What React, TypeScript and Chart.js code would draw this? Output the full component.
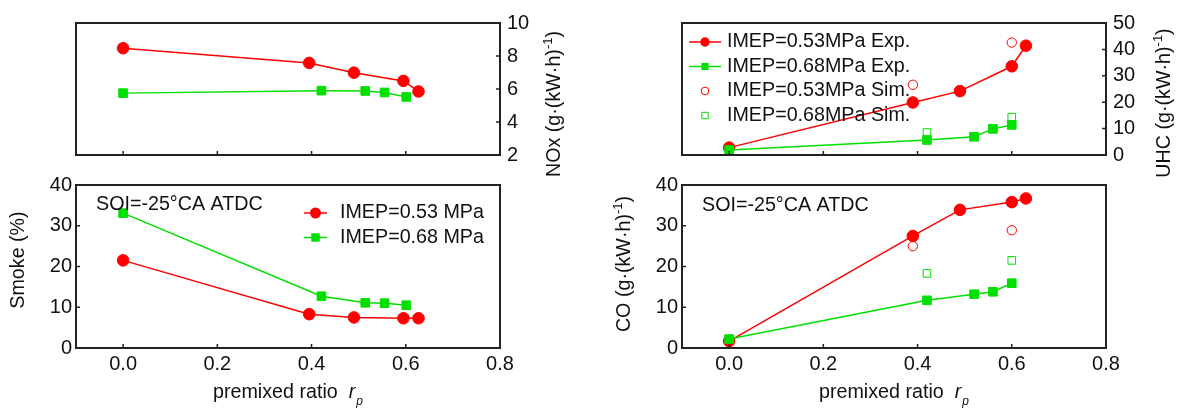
import React, { useEffect, useRef } from 'react';
import { Chart, registerables } from 'chart.js';
Chart.register(...registerables);

const W = 1179;
const H = 408;
const RED = '#ff0000';
const GREEN = '#00e000';
const INK = '#111111';
const FRAME = '#222222';
const FONT = '"Liberation Sans", Arial, Helvetica, sans-serif';
const TXT = 19.7;
const TICK = 20;

// ---- data ----
const xTickValues = [0, 0.2, 0.4, 0.6, 0.8];

// left panel (premixed ratio)
const rpRedL = [0, 0.395, 0.49, 0.595, 0.627];
const rpGreenL = [0, 0.421, 0.514, 0.555, 0.601];
const noxRed = [8.47, 7.58, 6.99, 6.49, 5.85];
const noxGreen = [5.75, 5.9, 5.88, 5.79, 5.52];
const smokeRed = [21.5, 8.3, 7.5, 7.3, 7.3];
const smokeGreen = [33.1, 12.7, 11.1, 11.0, 10.5];

// right panel
const rpRedR = [0, 0.39, 0.49, 0.6, 0.63];
const rpGreenR = [0, 0.42, 0.52, 0.56, 0.6];
const uhcRed = [2.8, 19.9, 24.2, 33.6, 41.4];
const uhcGreen = [1.9, 5.7, 6.9, 9.9, 11.4];
const coRed = [1.7, 27.5, 33.9, 35.8, 36.7];
const coGreen = [2.2, 11.7, 13.2, 13.8, 15.9];
const rpRedSim = [0.39, 0.6];
const rpGreenSim = [0.42, 0.6];
const uhcRedSim = [26.6, 42.6];
const uhcGreenSim = [8.5, 14.3];
const coRedSim = [25.0, 28.9];
const coGreenSim = [18.3, 21.5];

const noxTicks = [2, 4, 6, 8, 10];
const smokeTicks = [0, 10, 20, 30, 40];
const uhcTicks = [0, 10, 20, 30, 40, 50];
const coTicks = [0, 10, 20, 30, 40];

const legendLeft = ['IMEP=0.53 MPa', 'IMEP=0.68 MPa'];
const legendRight = ['IMEP=0.53MPa Exp.', 'IMEP=0.68MPa Exp.', 'IMEP=0.53MPa Sim.', 'IMEP=0.68MPa Sim.'];
const soiText = 'SOI=-25°CA ATDC';

// ---- helpers ----
type Seg = { t: string; size?: number; dy?: number; dx?: number; italic?: boolean };
function fontStr(s: Seg) {
  return `${s.italic ? 'italic ' : ''}${s.size || TXT}px ${FONT}`;
}
function drawRich(ctx: CanvasRenderingContext2D, segs: Seg[], x: number, y: number, center: boolean) {
  const widths = segs.map((s) => {
    ctx.font = fontStr(s);
    return ctx.measureText(s.t).width;
  });
  let total = 0;
  segs.forEach((s, i) => (total += widths[i] + (s.dx || 0)));
  let cx = center ? x - total / 2 : x;
  segs.forEach((s, i) => {
    cx += s.dx || 0;
    ctx.font = fontStr(s);
    ctx.fillText(s.t, cx, y + (s.dy || 0));
    cx += widths[i];
  });
}

type Mark = { style: 'circle' | 'rect'; filled: boolean; color: string; line: boolean };
function drawMarker(ctx: CanvasRenderingContext2D, m: Mark, x: number, y: number, scale: number) {
  ctx.save();
  ctx.beginPath();
  if (m.style === 'circle') {
    ctx.arc(x, y, (m.filled ? 5.5 : 4.5) * scale, 0, Math.PI * 2);
  } else {
    const s = (m.filled ? 8.5 : 7.5) * scale;
    ctx.rect(x - s / 2, y - s / 2, s, s);
  }
  if (m.filled) {
    ctx.fillStyle = m.color;
    ctx.fill();
  } else {
    ctx.strokeStyle = m.color;
    ctx.lineWidth = 1;
    ctx.stroke();
  }
  ctx.restore();
}

type Area = { L: number; T: number; R: number; B: number };
type Spec = {
  id: string;
  area: Area;
  yPos: 'left' | 'right';
  yMin: number;
  yMax: number;
  yTicks: number[];
  showX: boolean;
  datasets: any[];
  yTitle: { segs: Seg[]; x: number; y: number };
  xTitle?: { x: number; y: number };
  soi?: { x: number; y: number };
  legend?: {
    labels: string[];
    marks: Mark[];
    lx0: number;
    lx1: number;
    mx: number;
    tx: number;
    y0: number;
    dy: number;
    scale: number;
  };
};

const redMark: Mark = { style: 'circle', filled: true, color: RED, line: true };
const greenMark: Mark = { style: 'rect', filled: true, color: GREEN, line: true };
const redSimMark: Mark = { style: 'circle', filled: false, color: RED, line: false };
const greenSimMark: Mark = { style: 'rect', filled: false, color: GREEN, line: false };

function pts(xs: number[], ys: number[]) {
  return xs.map((x, i) => ({ x, y: ys[i] }));
}
function expSet(label: string, xs: number[], ys: number[], color: string, style: 'circle' | 'rect', order: number) {
  return {
    label,
    data: pts(xs, ys),
    showLine: true,
    borderColor: color,
    backgroundColor: color,
    borderWidth: 1.5,
    pointStyle: style,
    pointRadius: style === 'circle' ? 5.8 : 6.1,
    pointBorderWidth: 1,
    pointBorderColor: color,
    pointBackgroundColor: color,
    clip: false,
    order,
  };
}
function simSet(label: string, xs: number[], ys: number[], color: string, style: 'circle' | 'rect', order: number) {
  return {
    label,
    data: pts(xs, ys),
    showLine: false,
    borderColor: color,
    backgroundColor: 'rgba(0,0,0,0)',
    pointStyle: style,
    pointRadius: style === 'circle' ? 4.7 : 5.4,
    pointBorderWidth: 1,
    pointBorderColor: color,
    pointBackgroundColor: 'rgba(0,0,0,0)',
    clip: false,
    order,
  };
}

function makeDeco(spec: Spec) {
  return {
    id: 'deco_' + spec.id,
    afterDraw(chart: any) {
      const ctx: CanvasRenderingContext2D = chart.ctx;
      const { left, top, right, bottom } = chart.chartArea;
      const xs = chart.scales.x;
      const ys = chart.scales.y;
      ctx.save();
      // frame
      ctx.strokeStyle = FRAME;
      ctx.lineWidth = 2;
      ctx.strokeRect(left, top, right - left, bottom - top);
      // inward tick marks
      ctx.lineWidth = 1.5;
      ctx.beginPath();
      xTickValues.forEach((v) => {
        const px = xs.getPixelForValue(v);
        if (px > left + 2 && px < right - 2) {
          ctx.moveTo(px, bottom);
          ctx.lineTo(px, bottom - 4);
        }
      });
      spec.yTicks.forEach((v) => {
        const py = ys.getPixelForValue(v);
        if (py > top + 2 && py < bottom - 2) {
          if (spec.yPos === 'left') {
            ctx.moveTo(left, py);
            ctx.lineTo(left + 4, py);
          } else {
            ctx.moveTo(right, py);
            ctx.lineTo(right - 4, py);
          }
        }
      });
      ctx.stroke();

      ctx.fillStyle = INK;
      ctx.textBaseline = 'middle';
      ctx.textAlign = 'left';
      // y title (rotated)
      ctx.save();
      ctx.translate(spec.yTitle.x, spec.yTitle.y);
      ctx.rotate(-Math.PI / 2);
      drawRich(ctx, spec.yTitle.segs, 0, 0, true);
      ctx.restore();
      // x title
      if (spec.xTitle) {
        drawRich(
          ctx,
          [
            { t: 'premixed ratio' },
            { t: 'r', italic: true, dx: 11 },
            { t: 'p', italic: true, size: 12, dy: 9, dx: 1 },
          ],
          spec.xTitle.x,
          spec.xTitle.y,
          false
        );
      }
      // SOI annotation
      if (spec.soi) {
        ctx.font = `${TXT}px ${FONT}`;
        ctx.fillText(soiText, spec.soi.x, spec.soi.y);
      }
      // legend
      if (spec.legend) {
        const lg = spec.legend;
        lg.labels.forEach((lab, i) => {
          const y = lg.y0 + i * lg.dy;
          const m = lg.marks[i];
          if (m.line) {
            ctx.strokeStyle = m.color;
            ctx.lineWidth = 1.5;
            ctx.beginPath();
            ctx.moveTo(lg.lx0, y);
            ctx.lineTo(lg.lx1, y);
            ctx.stroke();
          }
          drawMarker(ctx, m, lg.mx, y, lg.scale);
          ctx.fillStyle = INK;
          ctx.font = `${TXT}px ${FONT}`;
          ctx.fillText(lab, lg.tx, y);
        });
      }
      ctx.restore();
    },
  };
}

function buildConfig(spec: Spec): any {
  const { L, T, R, B } = spec.area;
  const yW = 40;
  const xH = 30;
  const padding = {
    left: spec.yPos === 'left' ? L - yW : L,
    right: spec.yPos === 'right' ? W - R - yW : W - R,
    top: T,
    bottom: spec.showX ? H - B - xH : H - B,
  };
  const tickFont = { size: TICK, family: FONT };
  return {
    type: 'scatter',
    data: { datasets: spec.datasets },
    plugins: [makeDeco(spec)],
    options: {
      responsive: false,
      maintainAspectRatio: false,
      animation: false,
      devicePixelRatio: 1,
      events: [],
      layout: { padding, autoPadding: false },
      plugins: { legend: { display: false }, tooltip: { enabled: false }, title: { display: false } },
      scales: {
        x: {
          type: 'linear',
          position: 'bottom',
          display: spec.showX,
          min: -0.1,
          max: 0.8,
          afterBuildTicks: (s: any) => {
            s.ticks = xTickValues.map((v) => ({ value: v }));
          },
          afterFit: (s: any) => {
            s.height = xH;
          },
          grid: { display: false, drawTicks: false },
          border: { display: false },
          ticks: {
            font: tickFont,
            color: INK,
            padding: 4,
            maxRotation: 0,
            autoSkip: false,
            callback: (v: any) => Number(v).toFixed(1),
          },
        },
        y: {
          type: 'linear',
          position: spec.yPos,
          min: spec.yMin,
          max: spec.yMax,
          afterBuildTicks: (s: any) => {
            s.ticks = spec.yTicks.map((v) => ({ value: v }));
          },
          afterFit: (s: any) => {
            s.width = yW;
          },
          grid: { display: false, drawTicks: false },
          border: { display: false },
          ticks: {
            font: tickFont,
            color: INK,
            padding: spec.yPos === 'left' ? 4 : 7,
            autoSkip: false,
            callback: (v: any) => String(v),
          },
        },
      },
    },
  };
}

const unitSegs = (name: string): Seg[] => [
  { t: name + ' (g·(kW·h)' },
  { t: '-1', size: 13, dy: -7 },
  { t: ')' },
];

const specs: Spec[] = [
  {
    id: 'nox',
    area: { L: 76, T: 23, R: 500, B: 185 },
    yPos: 'right',
    yMin: 2,
    yMax: 10,
    yTicks: noxTicks,
    showX: false,
    datasets: [
      expSet('IMEP=0.53 MPa', rpRedL, noxRed, RED, 'circle', 1),
      expSet('IMEP=0.68 MPa', rpGreenL, noxGreen, GREEN, 'rect', 0),
    ],
    yTitle: { segs: unitSegs('NOx'), x: 555, y: 104 },
  },
  {
    id: 'smoke',
    area: { L: 76, T: 185, R: 500, B: 348 },
    yPos: 'left',
    yMin: 0,
    yMax: 40,
    yTicks: smokeTicks,
    showX: true,
    datasets: [
      expSet('IMEP=0.53 MPa', rpRedL, smokeRed, RED, 'circle', 1),
      expSet('IMEP=0.68 MPa', rpGreenL, smokeGreen, GREEN, 'rect', 0),
    ],
    yTitle: { segs: [{ t: 'Smoke (%)' }], x: 19, y: 260 },
    xTitle: { x: 213, y: 393 },
    soi: { x: 96, y: 205 },
    legend: {
      labels: legendLeft,
      marks: [redMark, greenMark],
      lx0: 304,
      lx1: 327,
      mx: 315.5,
      tx: 340,
      y0: 213,
      dy: 24.5,
      scale: 1,
    },
  },
  {
    id: 'uhc',
    area: { L: 682, T: 23, R: 1106, B: 185 },
    yPos: 'right',
    yMin: 0,
    yMax: 50,
    yTicks: uhcTicks,
    showX: false,
    datasets: [
      expSet(legendRight[0], rpRedR, uhcRed, RED, 'circle', 3),
      expSet(legendRight[1], rpGreenR, uhcGreen, GREEN, 'rect', 2),
      simSet(legendRight[2], rpRedSim, uhcRedSim, RED, 'circle', 1),
      simSet(legendRight[3], rpGreenSim, uhcGreenSim, GREEN, 'rect', 0),
    ],
    yTitle: { segs: unitSegs('UHC'), x: 1165, y: 103 },
    legend: {
      labels: legendRight,
      marks: [redMark, greenMark, redSimMark, greenSimMark],
      lx0: 689,
      lx1: 721,
      mx: 705,
      tx: 727,
      y0: 42,
      dy: 24.5,
      scale: 0.85,
    },
  },
  {
    id: 'co',
    area: { L: 682, T: 185, R: 1106, B: 348 },
    yPos: 'left',
    yMin: 0,
    yMax: 40,
    yTicks: coTicks,
    showX: true,
    datasets: [
      expSet(legendRight[0], rpRedR, coRed, RED, 'circle', 3),
      expSet(legendRight[1], rpGreenR, coGreen, GREEN, 'rect', 2),
      simSet(legendRight[2], rpRedSim, coRedSim, RED, 'circle', 1),
      simSet(legendRight[3], rpGreenSim, coGreenSim, GREEN, 'rect', 0),
    ],
    yTitle: { segs: unitSegs('CO'), x: 625, y: 264 },
    xTitle: { x: 819, y: 393 },
    soi: { x: 702, y: 206 },
  },
];

function ChartCanvas({ spec }: { spec: Spec }) {
  const ref = useRef<HTMLCanvasElement | null>(null);
  useEffect(() => {
    if (!ref.current) return;
    const chart = new Chart(ref.current, buildConfig(spec));
    return () => chart.destroy();
  }, [spec]);
  return (
    <canvas
      ref={ref}
      width={W}
      height={H}
      style={{ position: 'absolute', left: 0, top: 0, width: W, height: H }}
    />
  );
}

export default function App() {
  return (
    <div style={{ position: 'fixed', left: 0, top: 0, width: W, height: H, background: '#ffffff' }}>
      {specs.map((s) => (
        <ChartCanvas key={s.id} spec={s} />
      ))}
    </div>
  );
}
